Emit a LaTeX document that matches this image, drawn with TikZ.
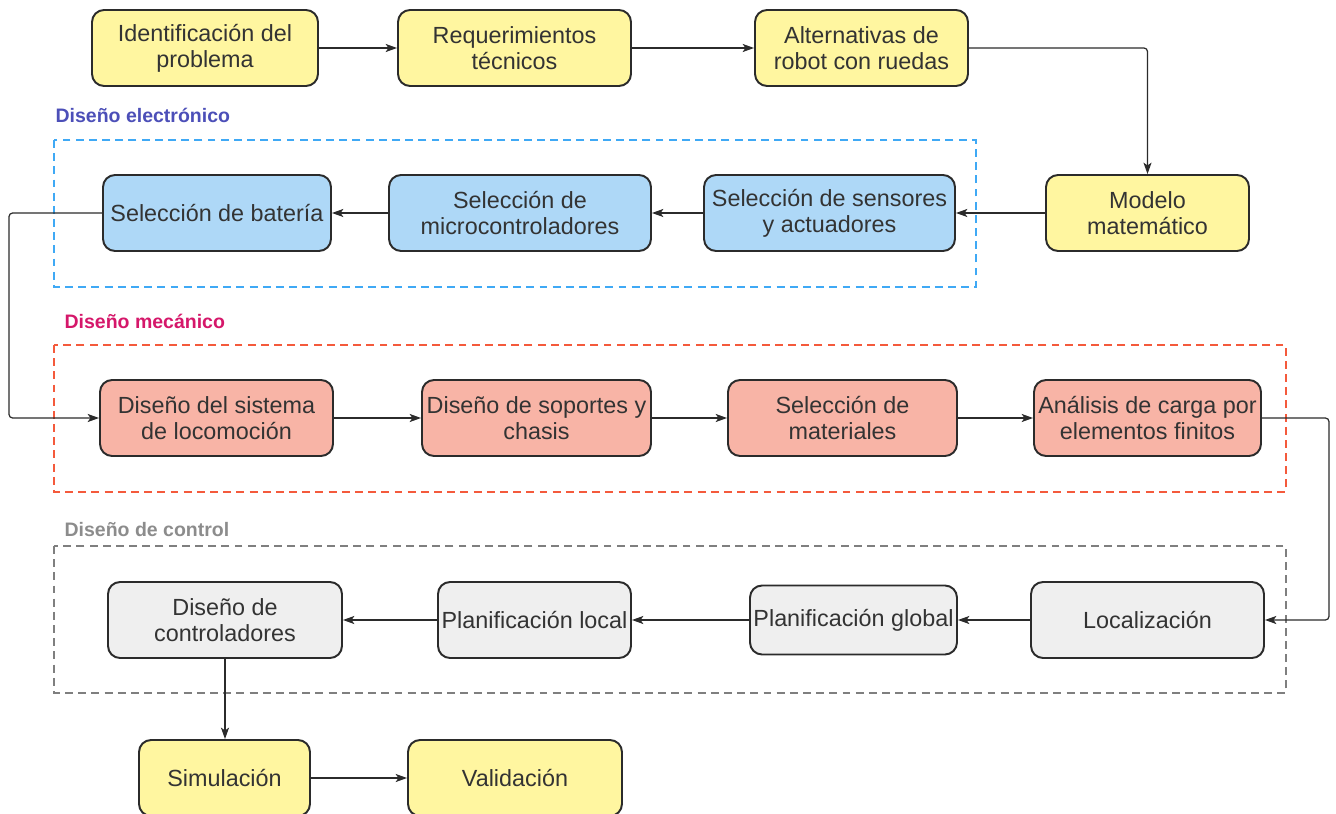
\documentclass[tikz,border=0pt]{standalone}
\usepackage{fontspec}
\setmainfont{Liberation Sans}
\usepackage{tikz}
\usetikzlibrary{arrows,arrows.meta,shapes,positioning,calc}

\definecolor{genfill}{HTML}{FFF6A0}
\definecolor{elecfill}{HTML}{AED8F7}
\definecolor{mecfill}{HTML}{F8B4A6}
\definecolor{ctrlfill}{HTML}{EFEFEF}
\definecolor{boxline}{HTML}{2B2B2B}
\definecolor{textgray}{HTML}{333333}
\definecolor{elecdash}{HTML}{3FA9F5}
\definecolor{mecdash}{HTML}{F45A3C}
\definecolor{ctrldash}{HTML}{7F7F7F}
\definecolor{electitle}{HTML}{4C4FB8}
\definecolor{mectitle}{HTML}{D5176A}
\definecolor{ctrltitle}{HTML}{8C8C8C}

\begin{document}
\begin{tikzpicture}[->,>={Stealth[length=6.5pt,width=4.6pt,inset=1.6pt]},x=0.02cm,y=-0.02cm,
line width=0.7pt,draw=boxline]
\tikzstyle{block}=[rectangle,rounded corners=0.24cm,draw=boxline,line width=1.1pt,
 minimum height=1.52cm,align=center,text=textgray,inner sep=1pt,
 font=\fontsize{13.3}{14.8}\selectfont]
\tikzstyle{genbox}=[block,fill=genfill]
\tikzstyle{elecbox}=[block,fill=elecfill]
\tikzstyle{mecbox}=[block,fill=mecfill]
\tikzstyle{ctrlbox}=[block,fill=ctrlfill]
\tikzstyle{frame}=[-,dashed,line width=1.1pt,dash pattern=on 4.5pt off 3pt]
\tikzstyle{title}=[anchor=west,inner sep=0pt,font=\fontsize{11.1}{13}\selectfont\bfseries]

\useasboundingbox (0,0) rectangle (1336,814);

%frames
\draw[frame,elecdash] (54,140) rectangle (976,287);
\draw[frame,mecdash] (54,345) rectangle (1286,492);
\draw[frame,ctrldash] (54,546) rectangle (1286,693);
\node[title,text=electitle] (Te) at (55,115) {Diseño electrónico};
\node[title,text=mectitle] (Tm) at (64,321) {Diseño mecánico};
\node[title,text=ctrltitle] (Tc) at (64,530) {Diseño de control};

%first row
\node[genbox,minimum width=4.52cm] (G1) at (205,48) {Identificación del\\problema};
\node[genbox,minimum width=4.66cm] (G2) at (514.5,48) {Requerimientos\\técnicos};
\node[genbox,minimum width=4.26cm] (G3) at (861.5,48) {Alternativas de\\robot con ruedas};
\node[genbox,minimum width=4.06cm] (G4) at (1147.5,213) {Modelo\\matemático};

%electronic
\node[elecbox,minimum width=5.02cm] (E1) at (829.5,213) {Selección de sensores\\y actuadores};
\node[elecbox,minimum width=5.24cm] (E2) at (520,213) {Selección de\\microcontroladores};
\node[elecbox,minimum width=4.56cm] (E3) at (217,213) {Selección de batería};

%mechanical
\node[mecbox,minimum width=4.66cm] (M1) at (216.5,418) {Diseño del sistema\\de locomoción};
\node[mecbox,minimum width=4.58cm] (M2) at (536.5,418) {Diseño de soportes y\\chasis};
\node[mecbox,minimum width=4.58cm] (M3) at (842.5,418) {Selección de\\materiales};
\node[mecbox,minimum width=4.54cm] (M4) at (1147.5,418) {Análisis de carga por\\elementos finitos};

%control
\node[ctrlbox,minimum width=4.66cm] (C1) at (1147.5,620) {Localización};
\node[ctrlbox,minimum width=4.14cm,minimum height=1.38cm] (C2) at (853.5,620) {Planificación global};
\node[ctrlbox,minimum width=3.86cm] (C3) at (534.5,620) {Planificación local};
\node[ctrlbox,minimum width=4.68cm] (C4) at (225,620) {Diseño de\\controladores};

%last row
\node[genbox,minimum width=3.42cm] (V1) at (224.5,778) {Simulación};
\node[genbox,minimum width=4.28cm] (V2) at (515,778) {Validación};

%connectors
\draw (G1) -- (G2);
\draw (G2) -- (G3);
\draw[rounded corners=2pt] (G3.east) -| (G4.north);
\draw (G4) -- (E1);
\draw (E1) -- (E2);
\draw (E2) -- (E3);
\draw[rounded corners=2pt] (E3.west) -- ++(-93,0) |- (M1.west);
\draw (M1) -- (M2);
\draw (M2) -- (M3);
\draw (M3) -- (M4);
\draw[rounded corners=2pt] (M4.east) -- ++(67,0) |- (C1.east);
\draw (C1) -- (C2);
\draw (C2) -- (C3);
\draw (C3) -- (C4);
\draw (C4.south) -- (C4.south |- V1.north);
\draw (V1) -- (V2);

\end{tikzpicture}
\end{document}
